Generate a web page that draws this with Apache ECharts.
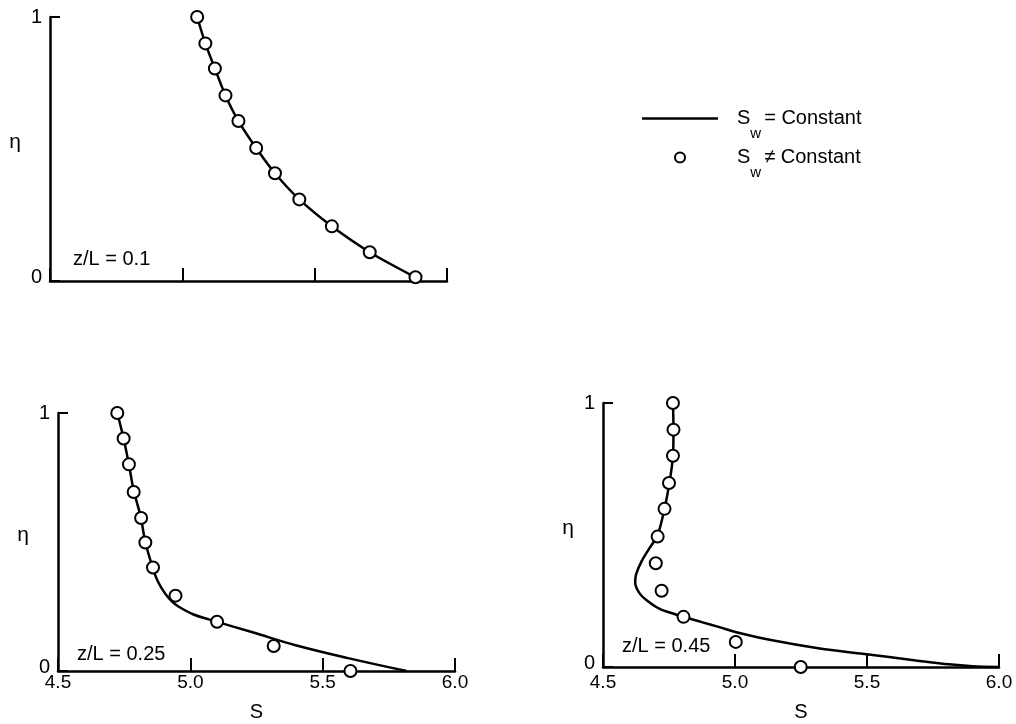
<!DOCTYPE html>
<html><head><meta charset="utf-8">
<script src="https://cdn.jsdelivr.net/npm/echarts@6/dist/echarts.min.js"></script>
<style>html,body{margin:0;padding:0;background:#fff}#c{width:1016px;height:724px}</style>
</head><body><div id="c"></div>
<script>
const FONT = 'Liberation Sans';
const xTickLabels = ['4.5', '5.0', '5.5', '6.0'];
const yTickLabels = ['0', '1'];
const panelLabels = ['z/L = 0.1', 'z/L = 0.25', 'z/L = 0.45'];
const lineName = 'Sw = Constant';
const ptName = 'Sw \u2260 Constant';

// Panel 1: z/L = 0.1 (line passes through the points)
const eta1 = [1.0, 0.9, 0.805, 0.703, 0.606, 0.504, 0.408, 0.309, 0.207, 0.109, 0.014];
const s1   = [5.056, 5.087, 5.123, 5.163, 5.212, 5.279, 5.350, 5.442, 5.565, 5.708, 5.881];

// Panel 2: z/L = 0.25
const etaPts2 = [1.0, 0.901, 0.801, 0.694, 0.593, 0.498, 0.401, 0.292, 0.191, 0.097, 0.0];
const sPts2   = [4.724, 4.748, 4.768, 4.786, 4.814, 4.830, 4.859, 4.944, 5.101, 5.315, 5.605];
const etaLine2 = [1.0, 0.9, 0.8, 0.7, 0.6, 0.5, 0.4, 0.35, 0.3, 0.27, 0.25, 0.22, 0.2, 0.15, 0.1, 0.05, 0.0];
const sLine2   = [4.724, 4.748, 4.768, 4.786, 4.812, 4.830, 4.858, 4.876, 4.905, 4.93, 4.955, 5.01, 5.07, 5.235, 5.398, 5.596, 5.817];

// Panel 3: z/L = 0.45
const etaPts3 = [1.0, 0.899, 0.800, 0.697, 0.599, 0.494, 0.393, 0.289, 0.190, 0.095, 0.0];
const sPts3   = [4.765, 4.767, 4.765, 4.750, 4.733, 4.707, 4.700, 4.722, 4.805, 5.003, 5.249];
const etaLine3 = [1.0, 0.9, 0.8, 0.7, 0.6, 0.5, 0.45, 0.4, 0.35, 0.32, 0.28, 0.25, 0.22, 0.2, 0.17, 0.15, 0.13, 0.1, 0.07, 0.05, 0.025, 0.01, 0.003, 0.0];
const sLine3   = [4.765, 4.767, 4.765, 4.752, 4.733, 4.707, 4.676, 4.646, 4.625, 4.622, 4.638, 4.669, 4.715, 4.773, 4.874, 4.944, 5.013, 5.146, 5.321, 5.483, 5.685, 5.81, 5.9, 6.0];

const zip = (xs, ys) => xs.map((x, i) => [x, ys[i]]);

const grids = [
  {left: 50, top: 17, width: 397, height: 264},
  {left: 58, top: 413, width: 397, height: 258},
  {left: 603, top: 403, width: 396, height: 264}
];
const xLabelMargin = [4, 2, 6];
const xNameGap = [30, 31, 35];
const smoothness = [0.3, 0.4, 0.3];

const black = '#000';
const xAxes = grids.map((g, i) => ({
  type: 'value', gridIndex: i, min: 4.5, max: 6.0, interval: 0.5,
  axisLine: {show: true, onZero: false, lineStyle: {color: black, width: 2.5}},
  axisTick: {show: true, inside: true, length: 13, lineStyle: {color: black, width: 2}},
  splitLine: {show: false},
  axisLabel: {show: i > 0, color: black, fontFamily: FONT, fontSize: 19, margin: xLabelMargin[i],
    showMinLabel: true, showMaxLabel: true,
    formatter: v => xTickLabels[Math.round((v - 4.5) / 0.5)] || ''},
  name: i > 0 ? 'S' : '', nameLocation: 'middle', nameGap: xNameGap[i],
  nameTextStyle: {color: black, fontFamily: FONT, fontSize: 20}
}));
const yAxes = grids.map((g, i) => ({
  type: 'value', gridIndex: i, min: 0, max: 1, interval: 1,
  axisLine: {show: true, onZero: false, lineStyle: {color: black, width: 2.5}},
  axisTick: {show: true, inside: true, length: 10, lineStyle: {color: black, width: 2}},
  splitLine: {show: false},
  axisLabel: {color: black, fontFamily: FONT, fontSize: 20, margin: 8,
    formatter: v => v === 0 ? '{z|' + yTickLabels[0] + '}' : '{o|' + yTickLabels[1] + '}',
    rich: {z: {fontFamily: FONT, fontSize: 20, color: black, padding: [0, 0, 8, 0]},
           o: {fontFamily: FONT, fontSize: 20, color: black}}},
  name: '{e|\u03b7}', nameLocation: 'middle', nameRotate: 0, nameGap: 29,
  nameTextStyle: {color: black, fontFamily: FONT, fontSize: 21,
    rich: {e: {fontFamily: FONT, fontSize: 21, color: black, padding: [0, 0, 14, 0]}}}
}));

const lineData = [zip(s1, eta1), zip(sLine2, etaLine2), zip(sLine3, etaLine3)];
const ptData = [zip(s1, eta1), zip(sPts2, etaPts2), zip(sPts3, etaPts3)];

const series = [];
grids.forEach((g, i) => {
  series.push({
    type: 'line', name: lineName, xAxisIndex: i, yAxisIndex: i, data: lineData[i],
    smooth: smoothness[i], symbol: 'none', showSymbol: false, clip: false, silent: true, z: 2,
    lineStyle: {color: black, width: 2.5}, itemStyle: {color: black}
  });
  series.push({
    type: 'scatter', name: ptName, xAxisIndex: i, yAxisIndex: i, data: ptData[i],
    symbol: 'circle', symbolSize: 12, clip: false, silent: true, z: 3,
    itemStyle: {color: '#fff', borderColor: black, borderWidth: 2, opacity: 1}
  });
});

const legendRich = {
  s: {fontFamily: FONT, fontSize: 20, color: black, padding: [0, 0, 0, 14]},
  w: {fontFamily: FONT, fontSize: 15, color: black, padding: [31, 0, 0, 0]},
  r: {fontFamily: FONT, fontSize: 20, color: black, padding: [0, 0, 0, 3]}
};
const legendFmt = name => name === lineName
  ? '{s|S}{w|w}{r|= Constant}'
  : '{s|S}{w|w}{r|\u2260 Constant}';
const legendBase = {
  orient: 'horizontal', padding: 0, itemWidth: 76, itemHeight: 10, selectedMode: false,
  formatter: legendFmt, textStyle: {color: black, fontFamily: FONT, fontSize: 20, rich: legendRich}
};

const labelPos = [[73, 260], [77, 655], [622, 647]];

const option = {
  animation: false,
  backgroundColor: '#fff',
  grid: grids,
  xAxis: xAxes,
  yAxis: yAxes,
  series: series,
  legend: [
    Object.assign({}, legendBase, {data: [{name: lineName, icon: 'path://M0 0H76V2.6H0Z'}], left: 642, top: 108.5,
      itemStyle: {color: black}}),
    Object.assign({}, legendBase, {data: [{name: ptName, icon: 'circle'}], left: 674, top: 147.5,
      itemStyle: {color: '#fff', borderColor: black, borderWidth: 2}})
  ],
  graphic: panelLabels.map((t, i) => ({
    type: 'text', left: labelPos[i][0], top: labelPos[i][1] - 11,
    style: {text: t, fontFamily: FONT, fontSize: 20, fill: black}
  }))
};

const chart = echarts.init(document.getElementById('c'), null, {renderer: 'canvas'});
chart.setOption(option);
</script>
</body></html>
